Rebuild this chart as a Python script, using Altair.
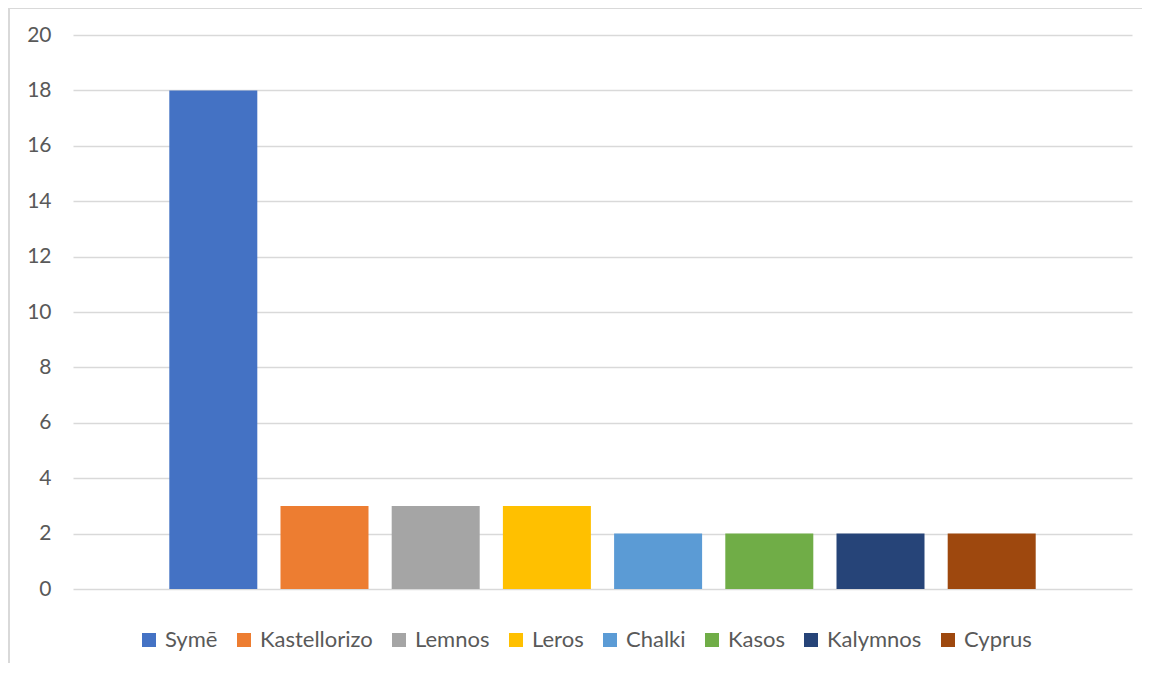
import altair as alt
import pandas as pd

islands = ["Symē", "Kastellorizo", "Lemnos", "Leros", "Chalki", "Kasos", "Kalymnos", "Cyprus"]
counts = [18, 3, 3, 3, 2, 2, 2, 2]
colors = ["#4472C4", "#ED7D31", "#A5A5A5", "#FFC000", "#5B9BD5", "#70AD47", "#264478", "#9E480E"]
y_ticks = [0, 2, 4, 6, 8, 10, 12, 14, 16, 18, 20]

df = pd.DataFrame({"island": islands, "count": counts})

FONT = "Lato"
TXT = "#595959"

bars = alt.Chart(df).mark_bar().encode(
    x=alt.X("island:N", sort=islands, axis=None,
            scale=alt.Scale(paddingInner=0.2086, paddingOuter=0.866)),
    y=alt.Y("count:Q", scale=alt.Scale(domain=[0, 20], nice=False),
            axis=alt.Axis(values=y_ticks, title=None, domain=False, ticks=False,
                          labelFont=FONT, labelFontSize=21, labelColor=TXT,
                          labelPadding=22, gridColor="#d9d9d9", gridWidth=1.5)),
    color=alt.Color("island:N", sort=islands,
                    scale=alt.Scale(domain=islands, range=colors),
                    legend=alt.Legend(title=None, orient="none", direction="horizontal",
                                      legendX=65, legendY=594, padding=0,
                                      symbolType="square", symbolSize=196,
                                      symbolStrokeWidth=0, labelFont=FONT,
                                      labelFontSize=22, labelColor=TXT,
                                      labelOffset=5, columnPadding=15)),
)

border = pd.DataFrame({"k": [0]})
top_line = alt.Chart(border).mark_rule(color="#d9d9d9", strokeWidth=2).encode(
    x=alt.value(-64), x2=alt.value(1200), y=alt.value(-27))
left_line = alt.Chart(border).mark_rule(color="#d9d9d9", strokeWidth=2).encode(
    x=alt.value(-64), y=alt.value(-27), y2=alt.value(700))

chart = alt.layer(bars, top_line, left_line).properties(
    width=1059, height=554,
    autosize=alt.AutoSizeParams(type="none"),
    padding={"left": 65, "top": 27, "right": 10, "bottom": 74},
).configure(background="white").configure_view(stroke=None)

chart.save("out.html", embed_options={"renderer": "svg", "actions": False})
